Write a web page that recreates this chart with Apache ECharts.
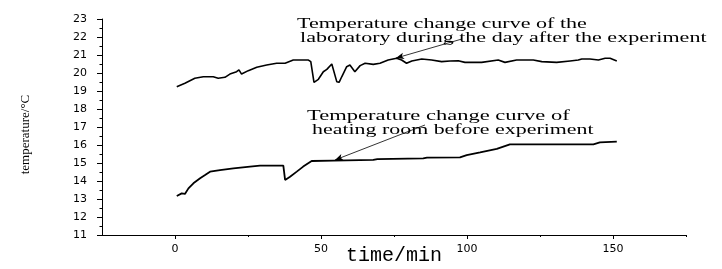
<!DOCTYPE html>
<html>
<head>
<meta charset="utf-8">
<script src="https://cdn.jsdelivr.net/npm/echarts@6/dist/echarts.min.js"></script>
<style>
html,body{margin:0;padding:0;background:#fff;}
#c{width:722px;height:269px;}
</style>
</head>
<body>
<div id="c"></div>
<script>
// Laboratory during the day after the experiment
const labTime = [0.6,3.4,6.8,9.7,13.1,14.8,17.1,18.8,21.1,21.9,22.8,25.1,28.0,31.4,34.8,37.7,40.5,45.7,46.5,47.6,49.1,50.8,52.0,53.7,55.4,56.2,57.1,58.8,59.9,61.6,63.4,65.1,67.9,70.2,73.0,75.9,77.6,79.3,81.1,84.5,87.9,91.3,94.2,97.0,99.3,105.0,110.7,113.0,117.0,122.7,125.6,130.7,135.3,138.1,139.3,142.1,145.0,147.3,149.0,151.3];
const labTemp = [19.24,19.43,19.71,19.79,19.79,19.71,19.76,19.94,20.07,20.17,19.94,20.13,20.32,20.44,20.54,20.54,20.72,20.72,20.63,19.48,19.65,20.07,20.2,20.5,19.52,19.48,19.79,20.35,20.44,20.07,20.41,20.54,20.48,20.54,20.72,20.82,20.72,20.54,20.67,20.78,20.72,20.63,20.67,20.68,20.59,20.59,20.72,20.59,20.72,20.72,20.63,20.59,20.67,20.72,20.78,20.78,20.72,20.82,20.82,20.67];
// Heating room before experiment
const heatTime = [0.6,2.3,3.4,4.6,6.3,8.6,10.3,12,15.4,20,25.7,29.1,37.1,37.7,39.4,41.7,43.9,46.8,54.2,67.9,69.3,85,86.3,97.6,99.9,104.5,110.2,114.7,122.7,143.3,145.5,151.3];
const heatTemp = [13.17,13.31,13.28,13.59,13.87,14.15,14.33,14.52,14.61,14.70,14.80,14.85,14.85,14.06,14.24,14.52,14.80,15.11,15.13,15.17,15.22,15.26,15.3,15.31,15.44,15.59,15.78,16.04,16.04,16.04,16.15,16.19];
// Tick values
const xMajorTicks = [0,50,100,150];
const xMinorTicks = [25,75,125,175];
// Annotation arrows [from, to] in data space
const labArrow = [[98.3,21.89],[75.7,20.83]];
const heatArrow = [[85.6,17.11],[54.8,15.17]];

const zip = (a,b) => a.map((v,i)=>[v,b[i]]);
const tickFont = {fontFamily:'DejaVu Sans', fontSize:11, color:'#000'};

const chart = echarts.init(document.getElementById('c'), null, {renderer:'canvas'});
chart.setOption({
  animation:false,
  backgroundColor:'#fff',
  grid:{left:102, right:36, top:19, bottom:34, containLabel:false, outerBoundsMode:'none'},
  xAxis:[{
    type:'value', min:-25, max:175,
    name:'time/min', nameLocation:'middle', nameGap:11, nameMoveOverlap:false,
    nameTextStyle:{fontFamily:'Liberation Mono', fontSize:20, lineHeight:20, color:'#000'},
    axisLine:{show:true, onZero:false, lineStyle:{color:'#000', width:1}},
    axisTick:{show:true, length:4, customValues:xMajorTicks, lineStyle:{color:'#000'}},
    axisLabel:Object.assign({margin:9, customValues:xMajorTicks}, tickFont),
    splitLine:{show:false}
  },{
    type:'value', min:-25, max:175, position:'bottom', gridIndex:0, offset:0,
    axisLine:{show:false, onZero:false},
    axisTick:{show:true, length:2, customValues:xMinorTicks, lineStyle:{color:'#000'}},
    axisLabel:{show:false},
    splitLine:{show:false}
  }],
  yAxis:{
    type:'value', min:11, max:23, interval:1,
    name:'temperature/\u00b0C', nameLocation:'middle', nameGap:70, nameMoveOverlap:false,
    nameTextStyle:{fontFamily:'Liberation Serif', fontSize:13, color:'#000', padding:[0,15,0,0]},
    axisLine:{show:true, onZero:false, lineStyle:{color:'#000', width:1}},
    axisTick:{show:true, length:5, lineStyle:{color:'#000'}},
    minorTick:{show:true, splitNumber:2, length:2.5, lineStyle:{color:'#000'}},
    axisLabel:Object.assign({margin:15}, tickFont),
    splitLine:{show:false}
  },
  series:[{
    type:'line', name:'laboratory', data:zip(labTime,labTemp),
    showSymbol:false, lineStyle:{color:'#000', width:1.6}, itemStyle:{color:'#000'},
    markLine:{silent:true, symbol:['none','arrow'], symbolSize:[5,8], label:{show:false},
      lineStyle:{color:'#000', width:0.8, type:'solid'},
      data:[[{coord:labArrow[0]},{coord:labArrow[1]}]]}
  },{
    type:'line', name:'heating room', data:zip(heatTime,heatTemp),
    showSymbol:false, lineStyle:{color:'#000', width:1.8}, itemStyle:{color:'#000'},
    markLine:{silent:true, symbol:['none','arrow'], symbolSize:[5,8], label:{show:false},
      lineStyle:{color:'#000', width:0.8, type:'solid'},
      data:[[{coord:heatArrow[0]},{coord:heatArrow[1]}]]}
  }],
  graphic:[
    {type:'text', x:297, y:24, scaleX:1.47, style:{text:'Temperature change curve of the', fontFamily:'Liberation Serif', fontSize:15, fill:'#000', align:'left', verticalAlign:'middle'}},
    {type:'text', x:300, y:38, scaleX:1.47, style:{text:'laboratory during the day after the experiment', fontFamily:'Liberation Serif', fontSize:15, fill:'#000', align:'left', verticalAlign:'middle'}},
    {type:'text', x:307, y:116, scaleX:1.5, style:{text:'Temperature change curve of', fontFamily:'Liberation Serif', fontSize:15, fill:'#000', align:'left', verticalAlign:'middle'}},
    {type:'text', x:312, y:130, scaleX:1.46, style:{text:'heating room before experiment', fontFamily:'Liberation Serif', fontSize:15, fill:'#000', align:'left', verticalAlign:'middle'}}
  ]
});
</script>
</body>
</html>
